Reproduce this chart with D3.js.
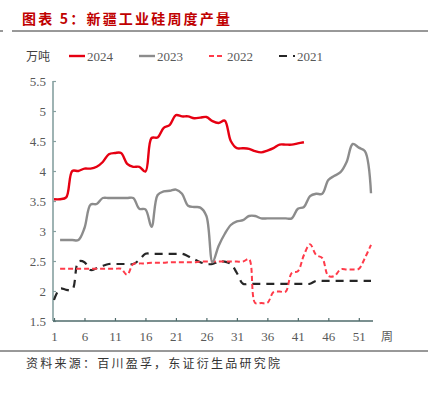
<!DOCTYPE html>
<html>
<head>
<meta charset="utf-8">
<script src="https://cdn.jsdelivr.net/npm/d3@7"></script>
<style>
  body { margin: 0; background: #fff; }
  svg { display: block; }
  .tick text { font-family: "Liberation Serif", serif; fill: #595959; }
</style>
</head>
<body>
<div id="chart"></div>
<script>
// weekly output, 10k tonnes
const weeks2024 = d3.range(1, 43);
const values2024 = [3.53, 3.53, 3.56, 4.0, 4.0, 4.04, 4.04, 4.07, 4.15, 4.28,
  4.3, 4.3, 4.12, 4.07, 4.07, 3.99, 4.55, 4.56, 4.72, 4.77,
  4.93, 4.91, 4.91, 4.88, 4.89, 4.9, 4.83, 4.8, 4.84, 4.5,
  4.38, 4.38, 4.37, 4.33, 4.31, 4.34, 4.38, 4.44, 4.44, 4.44,
  4.46, 4.48];

const weeks2023 = d3.range(2, 54);
const values2023 = [2.85, 2.85, 2.85, 2.85, 3.05, 3.44, 3.45, 3.55, 3.55, 3.55,
  3.55, 3.55, 3.55, 3.37, 3.36, 3.07, 3.6, 3.66, 3.67, 3.69,
  3.62, 3.42, 3.4, 3.39, 3.25, 2.48, 2.75, 2.95, 3.1, 3.16,
  3.18, 3.25, 3.25, 3.21, 3.21, 3.21, 3.21, 3.21, 3.21, 3.37,
  3.4, 3.58, 3.62, 3.62, 3.85, 3.92, 3.98, 4.15, 4.45, 4.39,
  4.33, 3.63];

const weeks2022 = d3.range(2, 54);
const values2022 = [2.37, 2.37, 2.37, 2.37, 2.37, 2.37, 2.37, 2.37, 2.37, 2.37,
  2.37, 2.27, 2.45, 2.46, 2.46, 2.47, 2.47, 2.47, 2.48, 2.48,
  2.48, 2.48, 2.48, 2.49, 2.49, 2.49, 2.49, 2.49, 2.49, 2.49,
  2.49, 2.53, 1.8, 1.8, 1.8, 1.98, 1.99, 1.99, 2.3, 2.33,
  2.6, 2.78, 2.6, 2.55, 2.25, 2.25, 2.36, 2.36, 2.36, 2.37,
  2.55, 2.77];

const weeks2021 = d3.range(1, 54);
const values2021 = [1.85, 2.04, 2.02, 2.02, 2.49, 2.48, 2.35, 2.38, 2.42, 2.45,
  2.45, 2.45, 2.45, 2.45, 2.52, 2.62, 2.62, 2.62, 2.62, 2.62,
  2.62, 2.62, 2.58, 2.53, 2.48, 2.45, 2.45, 2.49, 2.49, 2.45,
  2.3, 2.12, 2.12, 2.12, 2.12, 2.12, 2.12, 2.12, 2.12, 2.12,
  2.12, 2.12, 2.12, 2.17, 2.17, 2.17, 2.17, 2.17, 2.17, 2.17,
  2.17, 2.17, 2.17];

const xTicks = [1, 6, 11, 16, 21, 26, 31, 36, 41, 46, 51];
const yTicks = [1.5, 2, 2.5, 3, 3.5, 4, 4.5, 5, 5.5];
const seriesNames = ['2024', '2023', '2022', '2021'];

const width = 428, height = 395;

const svg = d3.select('#chart').append('svg')
    .attr('width', width)
    .attr('height', height);

// title and rules
svg.append('text')
    .attr('x', 22).attr('y', 24)
    .attr('font-family', '"Noto Sans CJK SC", sans-serif')
    .attr('font-size', 14).attr('font-weight', 'bold')
    .attr('fill', '#c00000')
    .attr('textLength', 208).attr('lengthAdjust', 'spacing')
    .text('图表 5：新疆工业硅周度产量');
svg.append('line').attr('x1', 12).attr('x2', 428).attr('y1', 31).attr('y2', 31)
    .attr('stroke', '#333').attr('stroke-width', 1);
svg.append('line').attr('x1', 0).attr('x2', 3).attr('y1', 31).attr('y2', 31)
    .attr('stroke', '#333').attr('stroke-width', 1);

svg.append('line').attr('x1', 0).attr('x2', 428).attr('y1', 351).attr('y2', 351)
    .attr('stroke', '#333').attr('stroke-width', 1);
svg.append('text')
    .attr('x', 26).attr('y', 368)
    .attr('font-family', '"Noto Sans CJK SC", sans-serif')
    .attr('font-size', 12).attr('fill', '#333')
    .attr('textLength', 254).attr('lengthAdjust', 'spacing')
    .text('资料来源：百川盈孚，东证衍生品研究院');

// scales
let x = d3.scaleLinear().domain([1, 53]).range([54, 371]);
let y = d3.scaleLinear().domain([1.5, 5.5]).range([321, 81]);

// y axis
let yAxis = svg.append('g')
    .attr('transform', 'translate(53,0)')
    .call(d3.axisRight(y).tickValues(yTicks).tickSize(3).tickFormat(d3.format('')));
yAxis.select('.domain').remove();
yAxis.selectAll('.tick line').attr('stroke', '#86a0a0').attr('stroke-width', 1.2);
yAxis.selectAll('.tick text')
    .attr('x', -7).attr('text-anchor', 'end')
    .attr('font-size', 13);
svg.append('line').attr('x1', 53).attr('x2', 53).attr('y1', y(5.5)).attr('y2', y(1.5))
    .attr('stroke', '#86a0a0').attr('stroke-width', 1.6);

// x axis
let xAxis = svg.append('g')
    .attr('transform', 'translate(0,' + y(1.5) + ')')
    .call(d3.axisBottom(x).tickValues(xTicks).tickSize(-3).tickSizeOuter(0));
xAxis.select('.domain').remove();
xAxis.selectAll('.tick line').attr('stroke', '#4f6b6b').attr('stroke-width', 1.2);
xAxis.selectAll('.tick text').attr('y', 11).attr('font-size', 13);
svg.append('line').attr('x1', 53).attr('x2', 373).attr('y1', y(1.5)).attr('y2', y(1.5))
    .attr('stroke', '#4f6b6b').attr('stroke-width', 1.6);
svg.append('text')
    .attr('x', 381).attr('y', 341)
    .attr('font-family', '"Noto Sans CJK SC", sans-serif')
    .attr('font-size', 12).attr('fill', '#595959')
    .text('周');

// lines
let line = d3.line()
    .x(d => x(d[0]))
    .y(d => y(d[1]))
    .curve(d3.curveCatmullRom.alpha(0.5));

const series = [
  { name: seriesNames[3], weeks: weeks2021, values: values2021, color: '#262626', width: 2.2, dash: '8,6' },
  { name: seriesNames[2], weeks: weeks2022, values: values2022, color: '#ff3b4a', width: 2, dash: '5,3' },
  { name: seriesNames[1], weeks: weeks2023, values: values2023, color: '#8c8c8c', width: 2.4, dash: null },
  { name: seriesNames[0], weeks: weeks2024, values: values2024, color: '#e60012', width: 2.4, dash: null }
];

series.forEach(s => {
  svg.append('path')
      .datum(d3.zip(s.weeks, s.values))
      .attr('fill', 'none')
      .attr('stroke', s.color)
      .attr('stroke-width', s.width)
      .attr('stroke-dasharray', s.dash)
      .attr('stroke-linejoin', 'round')
      .attr('d', line);
});

// legend
svg.append('text')
    .attr('x', 26).attr('y', 61)
    .attr('font-family', '"Noto Sans CJK SC", sans-serif')
    .attr('font-size', 12).attr('fill', '#404040')
    .text('万吨');

let legend = svg.append('g').attr('transform', 'translate(69,56)');
series.slice().reverse().forEach((s, i) => {
  let g = legend.append('g').attr('transform', 'translate(' + (i * 70) + ',0)');
  g.append('line')
      .attr('x1', 0).attr('x2', 16)
      .attr('stroke', s.color)
      .attr('stroke-width', s.width)
      .attr('stroke-dasharray', s.dash);
  g.append('text')
      .attr('x', 18).attr('y', 5)
      .attr('font-family', '"Liberation Serif", serif')
      .attr('font-size', 13).attr('fill', '#595959')
      .text(s.name);
});
</script>
</body>
</html>
